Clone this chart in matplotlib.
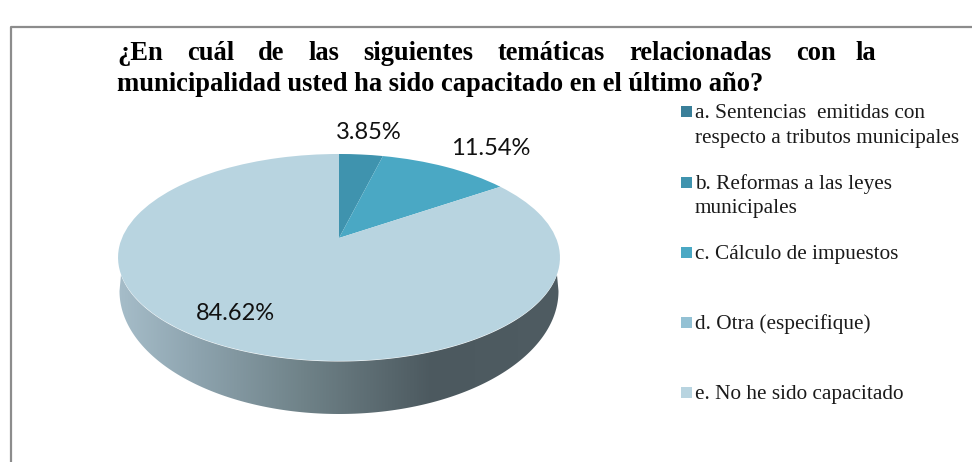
import numpy as np
import matplotlib
matplotlib.use("Agg")
import matplotlib.pyplot as plt
from matplotlib.colors import LinearSegmentedColormap
from matplotlib.patches import Polygon, Rectangle
from matplotlib.transforms import Transform

title_line1 = ["¿En", "cuál", "de", "las", "siguientes", "temáticas", "relacionadas", "con", "la"]
title_line2 = "municipalidad usted ha sido capacitado en el último año?"
legend_labels = ["a. Sentencias  emitidas con\nrespecto a tributos municipales",
                 "b. Reformas a las leyes\nmunicipales",
                 "c. Cálculo de impuestos",
                 "d. Otra (especifique)",
                 "e. No he sido capacitado"]
values = [0, 3.85, 11.54, 0, 84.62]
colors = ["#3a7f99", "#3f93ae", "#4aa8c4", "#93c1d4", "#b8d4e0"]
wall_stops = ["#a6bdc9", "#8da3ae", "#6f8288", "#4c595f", "#4f5c62"]


# tilted pie: the circle seen in perspective, centre at (339, 238) in picture pixels
class Perspective(Transform):
    input_dims = output_dims = 2
    def transform_non_affine(self, xy):
        xy = np.asarray(xy)
        d = 1 + 0.1884 * xy[:, 1]
        return np.column_stack([339 + 217 * xy[:, 0] / d, (238 - 55 * xy[:, 1]) / d])


plt.rcParams["font.family"] = "Liberation Serif"
fig = plt.figure(figsize=(9.72, 4.62), dpi=100)
ax = fig.add_axes([0, 0, 1, 1])

# side wall, top edge stops a little short of the rim so the corners stay square
t = np.linspace(0.165, np.pi - 0.165, 200)
top_edge = np.column_stack([339 + 221 * np.cos(t), 258 + 103.5 * np.sin(t)])
t2 = np.linspace(np.pi, 0, 200)
low_edge = np.column_stack([339 + 219.5 * np.cos(t2), 291 + 123 * np.sin(t2)])
wall = Polygon(np.vstack([top_edge, low_edge]), closed=True, transform=ax.transData,
               fc="none", ec="none")
ax.add_patch(wall)
cmap = LinearSegmentedColormap.from_list("wall", list(zip([0, 0.18, 0.42, 0.71, 1], wall_stops)))
img = ax.imshow(np.linspace(0, 1, 256).reshape(1, -1), cmap=cmap, aspect="auto",
                extent=[118, 560, 420, 250], zorder=1)
img.set_clip_path(wall)

wedges, _ = ax.pie(values, colors=colors, startangle=90, counterclock=False)
for w in wedges:
    w.set_transform(Perspective() + ax.transData)
    w.set_zorder(2)
    w.set_linewidth(0)

ax.set_aspect("auto")
ax.set_xlim(0, 972)
ax.set_ylim(462, 0)
ax.axis("off")

# frame of the picture, left and top only
ax.plot([11, 11, 972], [462, 27, 27], color="#8c8c8c", lw=1.6, zorder=3)

# data labels
for txt, x, y in [("3.85%", 369, 139), ("11.54%", 491, 155), ("84.62%", 235, 320)]:
    ax.text(x, y, txt, family="Lato", fontsize=17, color="#111111", ha="center", va="baseline", zorder=4)

# title, first line justified
line_x = [117, 187, 258, 308, 363, 498, 629, 796, 855]
for word, x in zip(title_line1, line_x):
    ax.text(x, 60, word, fontsize=19.1, fontweight="bold", ha="left", va="baseline")
ax.text(117, 91, title_line2, fontsize=19.1, fontweight="bold", ha="left", va="baseline")

# legend
box_y = [106, 177, 247, 317, 387]
text_y = [118, 189, 259, 329, 399]
for label, col, by, ty in zip(legend_labels, colors, box_y, text_y):
    ax.add_patch(Rectangle((681, by), 11, 11, fc=col, ec="none"))
    parts = label.split("\n")
    ax.text(695, ty, parts[0], fontsize=15.3, color="#1a1a1a", va="baseline")
    if len(parts) > 1:
        ax.text(695, ty + 24.5, parts[1], fontsize=15.3, color="#1a1a1a", va="baseline")

fig.savefig("out.png", dpi=100)
